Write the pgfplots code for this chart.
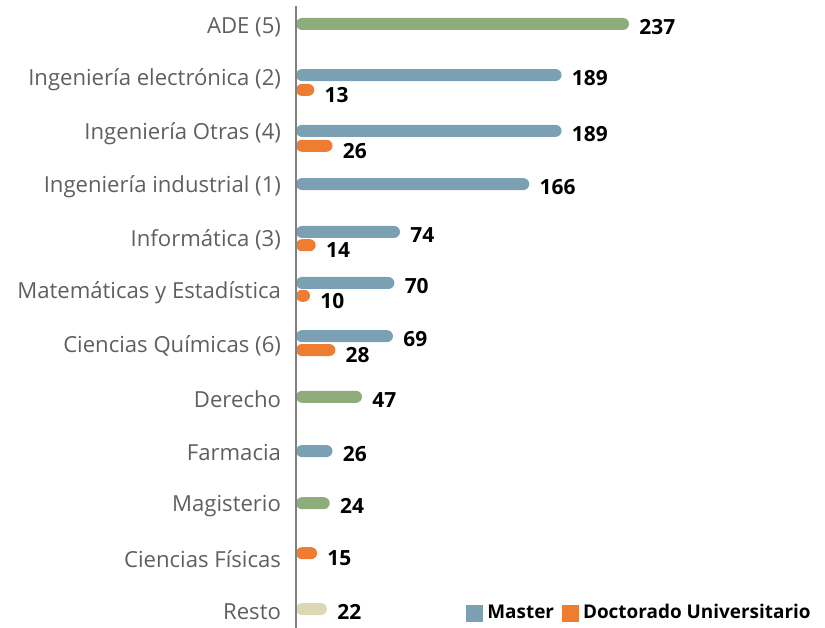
\documentclass[border=0pt]{standalone}
\usepackage{pgfplots}
\pgfplotsset{compat=1.18}
\usepackage{fontspec}
\setmainfont{Open Sans}
\definecolor{cgreen}{HTML}{8FAC7B}
\definecolor{cblue}{HTML}{7BA0B4}
\definecolor{corange}{HTML}{EE7D31}
\definecolor{cbeige}{HTML}{DDD8B4}
\definecolor{labgray}{HTML}{5F5F5F}
\begin{document}
\begin{tikzpicture}
\begin{axis}[
    name=ax,
    scale only axis, width=264.5bp, height=314bp,
    xmin=0, xmax=376.5, ymin=-0.357, ymax=11.451,
    axis line style={draw=none},
    /pgf/number format/assume math mode=true,
    xtick=\empty,
    ytick={0,...,11},
    yticklabels={Resto,Ciencias Físicas,Magisterio,Farmacia,Derecho,Ciencias Químicas (6),Matemáticas y Estadística,Informática (3),Ingeniería industrial (1),Ingeniería Otras (4),Ingeniería electrónica (2),ADE (5)},
    major tick length=0pt,
    yticklabel style={font=\fontsize{11.1}{13}\selectfont, text=labgray, xshift=-4bp, yshift=-1.5bp},
    xbar, bar width=6bp, bar shift=0pt,
    clip=false,
    nodes near coords,
    nodes near coords style={font=\bfseries\fontsize{10.5}{12}\selectfont, text=black, anchor=west, inner sep=0pt, xshift=5bp, yshift=-1.5bp},
    every axis plot/.append style={draw=none, rounded corners=3bp},
    legend columns=2,
    legend style={draw=none, fill=none, font=\bfseries\fontsize{9.5}{12}\selectfont,
        at={(0.985,0.0)}, anchor=south east, inner sep=1bp,
        /tikz/every even column/.append style={column sep=2bp}},
    legend image code/.code={\fill[#1, sharp corners] (0bp,-4.5bp) rectangle (8.5bp,4bp);},
]
% Master
\addplot[fill=cblue] coordinates {
    (189,10.04) (189,8.99) (166,7.99) (74,7.09) (70,6.13) (69,5.13) (26,2.97)
};
\addlegendentry{Master}
% Doctorado Universitario
\addplot[fill=corange, every node near coord/.append style={yshift=-1bp}] coordinates {
    (13,9.76) (26,8.71) (14,6.84) (10,5.89) (28,4.87) (15,1.05)
};
\addlegendentry{Doctorado Universitario}
% other
\addplot[fill=cgreen, forget plot] coordinates {
    (237,11) (47,3.99) (24,1.99)
};
\addplot[fill=cbeige, forget plot] coordinates {
    (22,0)
};
\draw[gray, line width=0.6bp] (axis cs:0,-0.357) -- (axis cs:0,11.34);
\end{axis}
\pgfresetboundingbox
\useasboundingbox ([xshift=-148bp]ax.south west) rectangle (ax.north east);
\end{tikzpicture}
\end{document}
